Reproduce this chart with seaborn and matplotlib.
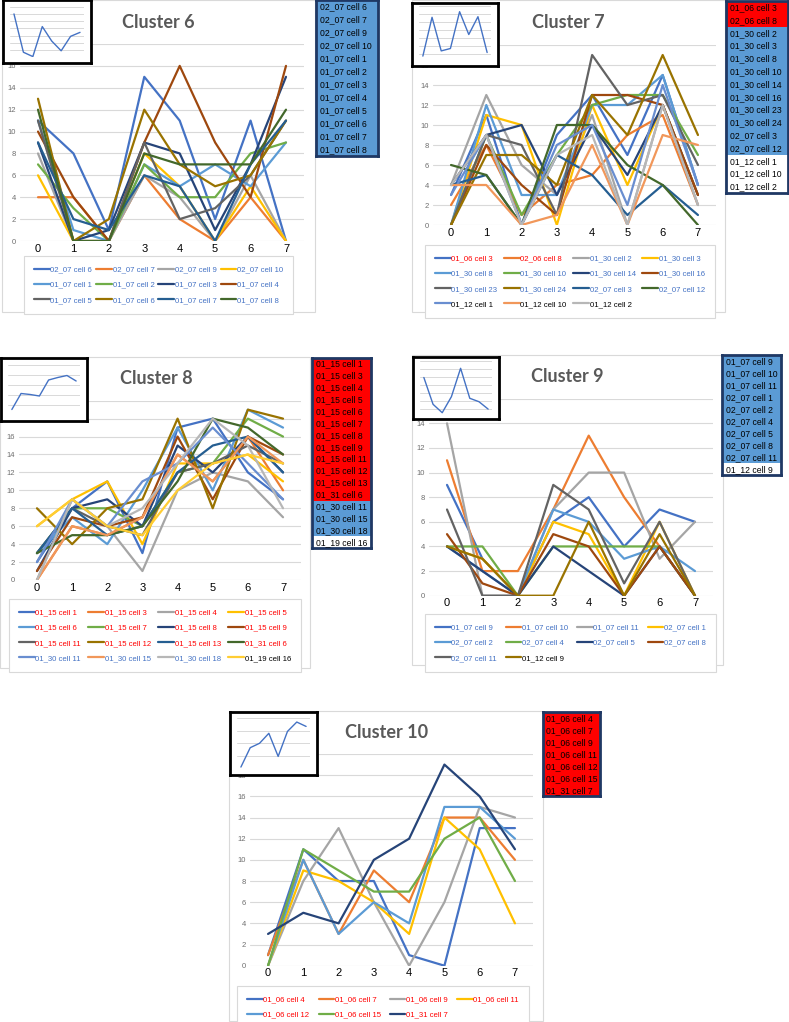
import matplotlib
matplotlib.use('Agg')
import matplotlib.pyplot as plt
from matplotlib.lines import Line2D
from matplotlib.patches import Rectangle
import seaborn as sns
import pandas as pd

sns.set_theme(style='white')
plt.rcParams['font.family'] = ['Liberation Sans', 'DejaVu Sans']

steps = list(range(8))
excel_colors = ['#4472C4', '#ED7D31', '#A5A5A5', '#FFC000', '#5B9BD5', '#70AD47',
                '#264478', '#9E480E', '#636363', '#997300', '#255E91', '#43682B',
                '#698ED0', '#F1975A', '#B7B7B7', '#FFCD33']

# ---- Cluster 6
c6_cells = ['02_07 cell 6', '02_07 cell 7', '02_07 cell 9', '02_07 cell 10',
            '01_07 cell 1', '01_07 cell 2', '01_07 cell 3', '01_07 cell 4',
            '01_07 cell 5', '01_07 cell 6', '01_07 cell 7', '01_07 cell 8']
c6_groups = ['blue'] * 12
c6_values = [[11, 8, 1, 15, 11, 2, 11, 0],
             [4, 4, 0, 6, 2, 0, 4, 0],
             [8, 0, 0, 6, 4, 0, 6, 0],
             [6, 0, 0, 8, 5, 0, 5, 0],
             [11, 1, 0, 7, 5, 7, 5, 9],
             [7, 3, 0, 7, 4, 4, 8, 9],
             [9, 0, 1, 9, 8, 1, 7, 15],
             [10, 4, 0, 9, 16, 9, 4, 16],
             [11, 0, 0, 9, 2, 3, 6, 11],
             [13, 0, 2, 12, 7, 5, 6, 11],
             [9, 2, 1, 6, 5, 0, 7, 11],
             [12, 0, 0, 8, 7, 7, 7, 12]]
c6_mean = [12.0, 1.4, 0.2, 8.5, 4.5, 1.8, 5.8, 6.9]

# ---- Cluster 7
c7_cells = ['01_06 cell 3', '02_06 cell 8', '01_30 cell 2', '01_30 cell 3',
            '01_30 cell 8', '01_30 cell 10', '01_30 cell 14', '01_30 cell 16',
            '01_30 cell 23', '01_30 cell 24', '02_07 cell 3', '02_07 cell 12',
            '01_12 cell 1', '01_12 cell 10', '01_12 cell 2']
c7_groups = ['red'] * 2 + ['blue'] * 10 + ['white'] * 3
c7_values = [[3, 11, 0, 9, 13, 7, 15, 4],
             [2, 8, 1, 4, 5, 9, 11, 2],
             [4, 13, 6, 3, 11, 0, 12, 2],
             [0, 11, 10, 0, 12, 4, 12, 3],
             [0, 12, 3, 3, 12, 12, 15, 4],
             [0, 9, 1, 7, 12, 13, 13, 7],
             [4, 9, 10, 3, 10, 5, 12, 3],
             [0, 8, 4, 1, 13, 13, 12, 3],
             [0, 9, 8, 1, 17, 12, 13, 6],
             [0, 7, 7, 4, 13, 9, 17, 9],
             [4, 5, 0, 7, 5, 1, 4, 1],
             [6, 5, 0, 10, 10, 6, 4, 0],
             [3, 9, 0, 8, 10, 2, 14, 4],
             [4, 4, 0, 1, 8, 0, 9, 8],
             [4, 9, 0, 7, 9, 0, 12, 2]]
c7_mean = [1.4, 11.1, 2.7, 3.3, 12.5, 6.8, 11.25, 2.3]

# ---- Cluster 8
c8_cells = ['01_15 cell 1', '01_15 cell 3', '01_15 cell 4', '01_15 cell 5',
            '01_15 cell 6', '01_15 cell 7', '01_15 cell 8', '01_15 cell 9',
            '01_15 cell 11', '01_15 cell 12', '01_15 cell 13', '01_31 cell 6',
            '01_30 cell 11', '01_30 cell 15', '01_30 cell 18', '01_19 cell 16']
c8_groups = ['red'] * 12 + ['blue'] * 3 + ['white']
c8_values = [[2, 8, 11, 3, 17, 18, 12, 9],
             [0, 6, 5, 7, 14, 11, 16, 10],
             [0, 9, 6, 1, 10, 12, 11, 7],
             [6, 9, 11, 4, 13, 13, 14, 11],
             [3, 7, 4, 10, 17, 10, 19, 17],
             [3, 8, 8, 6, 12, 13, 18, 16],
             [1, 8, 9, 6, 15, 12, 16, 12],
             [1, 7, 6, 7, 16, 9, 16, 14],
             [3, 8, 6, 5, 12, 13, 15, 13],
             [8, 4, 8, 9, 18, 8, 19, 18],
             [3, 8, 5, 6, 12, 15, 16, 12],
             [3, 5, 5, 6, 11, 18, 17, 14],
             [2, 9, 6, 11, 13, 17, 13, 9],
             [0, 6, 5, 7, 14, 11, 16, 13],
             [0, 9, 6, 8, 13, 18, 15, 8],
             [6, 9, 6, 5, 10, 13, 14, 13]]
c8_mean = [1.1, 4.3, 4.1, 3.8, 7.0, 7.5, 7.9, 6.8]

# ---- Cluster 9
c9_cells = ['01_07 cell 9', '01_07 cell 10', '01_07 cell 11', '02_07 cell 1',
            '02_07 cell 2', '02_07 cell 4', '02_07 cell 5', '02_07 cell 8',
            '02_07 cell 11', '01_12 cell 9']
c9_groups = ['blue'] * 9 + ['white']
c9_values = [[9, 3, 0, 6, 8, 4, 7, 6],
             [11, 2, 2, 7, 13, 8, 4, 0],
             [14, 0, 0, 7, 10, 10, 3, 6],
             [4, 3, 0, 6, 5, 0, 6, 0],
             [4, 2, 0, 7, 6, 3, 4, 2],
             [4, 4, 0, 4, 4, 4, 4, 0],
             [4, 2, 0, 4, 2, 0, 4, 0],
             [5, 1, 0, 5, 4, 0, 4, 0],
             [7, 0, 0, 9, 7, 1, 6, 0],
             [4, 3, 0, 0, 6, 0, 5, 0]]
c9_mean = [9.8, 3.1, 1.0, 5.0, 12.1, 4.6, 3.75, 1.9]

# ---- Cluster 10
c10_cells = ['01_06 cell 4', '01_06 cell 7', '01_06 cell 9', '01_06 cell 11',
             '01_06 cell 12', '01_06 cell 15', '01_31 cell 7']
c10_groups = ['red'] * 7
c10_values = [[1, 11, 8, 8, 1, 0, 13, 13],
              [1, 10, 3, 9, 6, 14, 14, 10],
              [0, 8, 13, 6, 0, 6, 15, 14],
              [0, 9, 8, 6, 3, 14, 11, 4],
              [0, 10, 3, 6, 4, 15, 15, 12],
              [0, 11, 9, 7, 7, 12, 14, 8],
              [3, 5, 4, 10, 12, 19, 16, 11]]
c10_mean = [0.2, 3.3, 4.0, 5.6, 1.9, 5.9, 7.4, 6.7]

# ---- layout (pixels, top-left origin)
W, H = 789, 1022
layouts = {
    'Cluster 6': dict(frame=(2, 0, 315, 312), plot=(20.3, 44, 303.7, 241), ymax=18,
                      title=(158, 22), legend=(20, 252, 297), box=(316, 0, 378, 156),
                      inset_box=(3, 0, 91, 63), inset_plot=(10, 6.7, 84, 57.3), inset_ymax=14),
    'Cluster 7': dict(frame=(412, 0, 725, 312), plot=(433.4, 45, 715.6, 225), ymax=18,
                      title=(568, 23), legend=(421, 241, 719), box=(726, 1, 788, 193),
                      inset_box=(412, 3, 498, 66), inset_plot=(419, 5.7, 491, 61.7), inset_ymax=14),
    'Cluster 8': dict(frame=(0, 357, 310, 668), plot=(19.4, 400.7, 300.6, 580), ymax=20,
                      title=(156, 378), legend=(5, 595, 305), box=(312, 358, 371, 548),
                      inset_box=(1, 358, 87, 421), inset_plot=(8, 365, 80, 415), inset_ymax=10),
    'Cluster 9': dict(frame=(412, 355, 723, 665), plot=(429.3, 398.7, 712.7, 595.7), ymax=16,
                      title=(567, 376), legend=(421, 610, 720), box=(722, 355, 781, 475),
                      inset_box=(413, 357, 499, 419), inset_plot=(420, 360.7, 492, 416.7), inset_ymax=14),
    'Cluster 10': dict(frame=(229, 711, 543, 1021), plot=(250.4, 754, 532.6, 965.7), ymax=20,
                       title=(387, 732), legend=(233, 982, 533), box=(543, 712, 600, 796),
                       inset_box=(230, 712, 317, 775), inset_plot=(237, 718.3, 310, 768.3), inset_ymax=8),
}

box_fill = {'red': '#FF0000', 'blue': '#5B9BD5', 'white': '#FFFFFF'}
text_color = {'red': '#FF0000', 'blue': '#4472C4', 'white': '#000000'}
NCOL = 4


def rect(b):
    x0, y0, x1, y1 = b
    return [x0 / W, 1 - y1 / H, (x1 - x0) / W, (y1 - y0) / H]


def row_major(items):
    # matplotlib fills legend columns first; Excel fills rows first
    return [it for j in range(NCOL) for it in items[j::NCOL]]


fig = plt.figure(figsize=(W / 100, H / 100), dpi=100)
fig.patch.set_facecolor('white')


def draw_cluster(name, cells, groups, values, mean):
    lay = layouts[name]
    colors = excel_colors[:len(cells)]
    palette = dict(zip(cells, colors))

    # chart frame
    fx0, fy0, fx1, fy1 = lay['frame']
    fig.add_artist(Rectangle((fx0 / W, 1 - fy1 / H), (fx1 - fx0) / W, (fy1 - fy0) / H,
                             transform=fig.transFigure, fill=False,
                             edgecolor='#D9D9D9', lw=0.8, zorder=-1))

    # main line chart
    df = pd.DataFrame([{'step': s, 'value': v, 'cell': c}
                       for c, vals in zip(cells, values) for s, v in zip(steps, vals)])
    ax = fig.add_axes(rect(lay['plot']))
    sns.lineplot(data=df, x='step', y='value', hue='cell', hue_order=cells,
                 palette=palette, ax=ax, legend=False, lw=1.6, sort=False,
                 errorbar=None)
    ax.set_xlim(-0.5, 7.5)
    ax.set_ylim(0, lay['ymax'])
    ax.set_xticks(steps)
    ax.set_yticks(range(0, lay['ymax'] + 1, 2))
    ax.tick_params(axis='x', labelsize=8, labelcolor='black', length=0, pad=2)
    ax.tick_params(axis='y', labelsize=5.5, labelcolor='#6E6E6E', length=0, pad=3)
    ax.grid(axis='y', color='#D9D9D9', lw=0.8)
    ax.set_axisbelow(True)
    ax.set_xlabel('')
    ax.set_ylabel('')
    for sp in ax.spines.values():
        sp.set_visible(False)
    ax.patch.set_alpha(0)

    # legend under the chart
    handles = [Line2D([], [], color=palette[c], lw=1.6) for c in cells]
    lx0, ly0, lx1 = lay['legend']
    leg = ax.legend(row_major(handles), row_major(cells), ncol=NCOL, loc='upper left',
                    mode='expand',
                    bbox_to_anchor=(lx0 / W, 1 - ly0 / H - 0.1, (lx1 - lx0) / W, 0.1),
                    bbox_transform=fig.transFigure, fontsize=5.6, handlelength=2.0,
                    handletextpad=0.1, columnspacing=0.4, labelspacing=1.0,
                    borderpad=1.3, frameon=True, fancybox=False, framealpha=1)
    leg.get_frame().set_edgecolor('#D9D9D9')
    leg.get_frame().set_linewidth(0.8)
    for t, g in zip(leg.get_texts(), row_major(groups)):
        t.set_color(text_color[g])

    # title
    tx, ty = lay['title']
    fig.text(tx / W, 1 - ty / H, name, ha='center', va='center', fontsize=13,
             fontweight='bold', color='#595959', family=['Lato', 'DejaVu Sans'])

    # small mean profile inset
    fa = fig.add_axes(rect(lay['inset_box']))
    fa.set_xticks([])
    fa.set_yticks([])
    fa.set_facecolor('white')
    for sp in fa.spines.values():
        sp.set_color('black')
        sp.set_linewidth(2)
    ia = fig.add_axes(rect(lay['inset_plot']))
    sns.lineplot(x=steps, y=mean, ax=ia, color='#4472C4', lw=1.0)
    ia.set_xlim(-0.42, 7.42)
    ia.set_ylim(0, lay['inset_ymax'])
    ia.set_yticks(range(0, lay['inset_ymax'] + 1, 2))
    ia.set_xticks([])
    ia.tick_params(axis='y', labelleft=False, length=0)
    ia.grid(axis='y', color='#D9D9D9', lw=0.7)
    ia.set_axisbelow(True)
    ia.patch.set_alpha(0)
    for sp in ia.spines.values():
        sp.set_visible(False)

    # list of cells box
    ba = fig.add_axes(rect(lay['box']))
    ba.set_xlim(0, 1)
    ba.set_ylim(len(cells), 0)
    for i, (c, g) in enumerate(zip(cells, groups)):
        ba.axhspan(i, i + 1, color=box_fill[g], lw=0)
        ba.text(0.06, i + 0.52, c, va='center', ha='left', fontsize=6.2, color='black')
    ba.set_xticks([])
    ba.set_yticks([])
    for sp in ba.spines.values():
        sp.set_color('#1F3864')
        sp.set_linewidth(2)


draw_cluster('Cluster 6', c6_cells, c6_groups, c6_values, c6_mean)
draw_cluster('Cluster 7', c7_cells, c7_groups, c7_values, c7_mean)
draw_cluster('Cluster 8', c8_cells, c8_groups, c8_values, c8_mean)
draw_cluster('Cluster 9', c9_cells, c9_groups, c9_values, c9_mean)
draw_cluster('Cluster 10', c10_cells, c10_groups, c10_values, c10_mean)

fig.savefig('out.png', dpi=100, facecolor='white')
